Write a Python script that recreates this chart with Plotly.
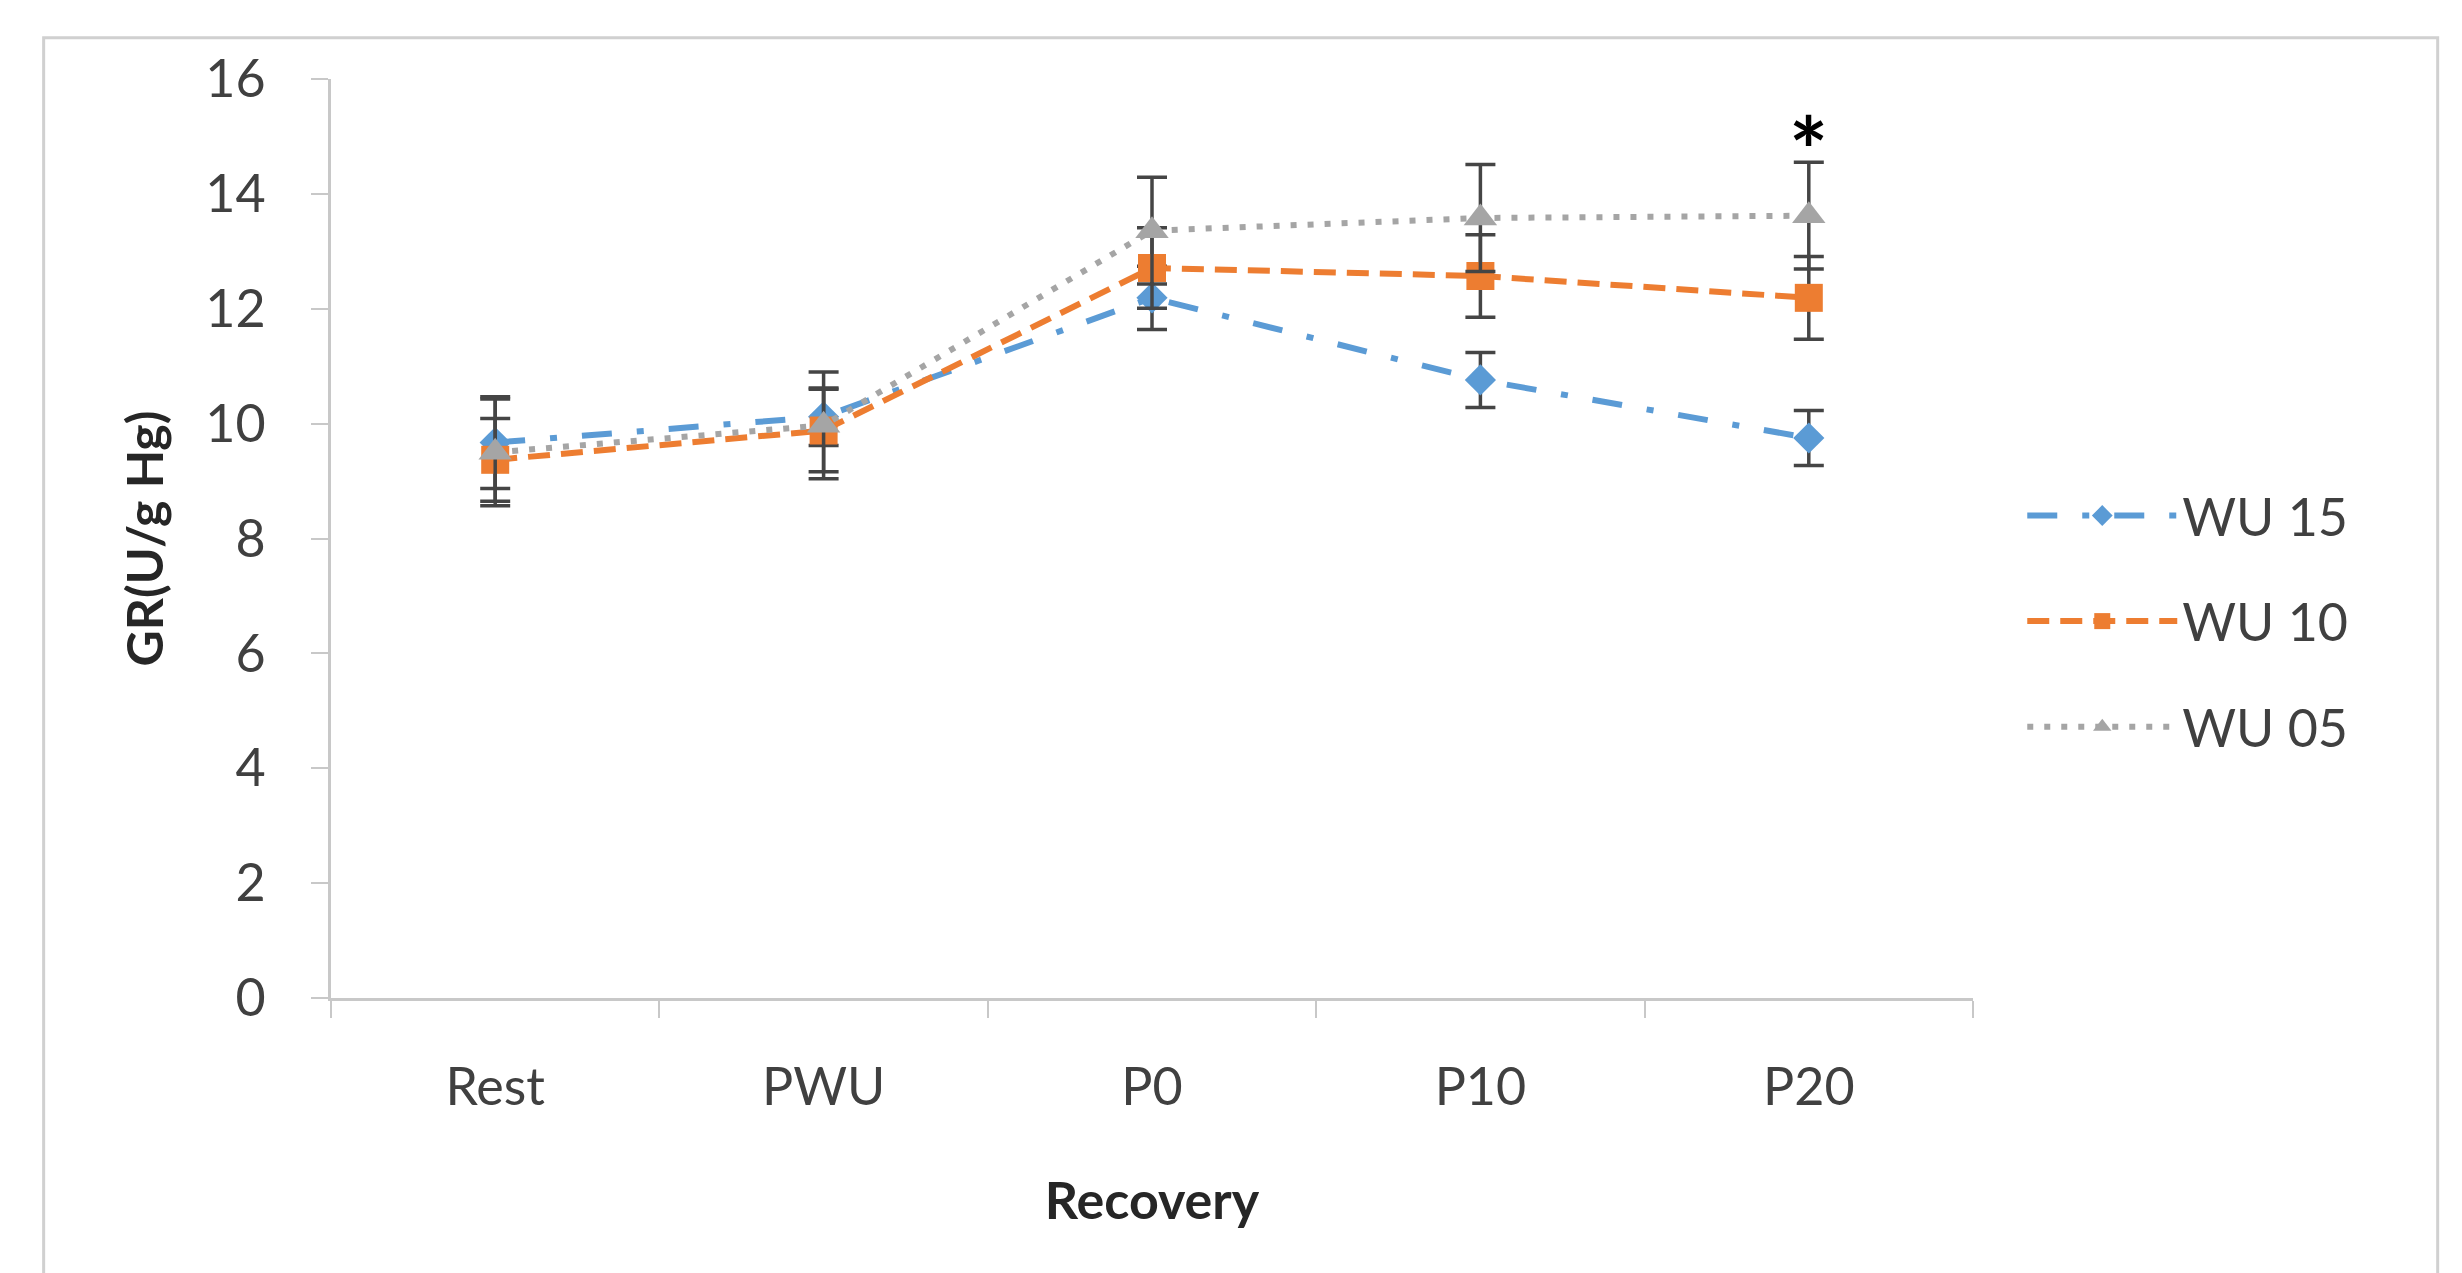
import plotly.graph_objects as go

categories = ["Rest", "PWU", "P0", "P10", "P20"]

wu15_mean = [9.67, 10.12, 12.19, 10.76, 9.75]
wu15_err = [0.80, 0.50, 0.55, 0.48, 0.48]

wu10_mean = [9.37, 9.88, 12.71, 12.57, 12.19]
wu10_err = [0.72, 0.72, 0.70, 0.72, 0.72]

wu05_mean = [9.50, 9.97, 13.36, 13.58, 13.62]
wu05_err = [0.93, 0.93, 0.93, 0.93, 0.93]

y_ticks = [0, 2, 4, 6, 8, 10, 12, 14, 16]

FONT = "Lato"
ERR_COLOR = "#454545"

fig = go.Figure()

series = [
    ("WU 15", wu15_mean, wu15_err, "#5B9BD5", "30px,25px,7px,25px", "diamond", 24),
    ("WU 10", wu10_mean, wu10_err, "#ED7D31", "22px,11px", "square", 28),
    ("WU 05", wu05_mean, wu05_err, "#A5A5A5", "6px,11px", "triangle-up", 29),
]

for i, (name, mean, err, color, dash, symbol, msize) in enumerate(series):
    fig.add_trace(go.Scatter(
        x=categories, y=mean, name=name, mode="lines+markers",
        legendgroup=f"g{i}",
        line=dict(color=color, width=6, dash=dash),
        marker=dict(color=color, symbol=symbol, size=msize, line=dict(width=0)),
        error_y=dict(type="data", array=err, visible=True, color=ERR_COLOR,
                     thickness=3.5, width=15),
    ))

fig.add_annotation(x="P20", y=14.78, text="<b>*</b>", showarrow=False,
                   font=dict(family=FONT, size=92, color="#000000"))

fig.add_shape(type="rect", xref="paper", yref="paper",
              x0=-0.175, x1=1.283, y0=-0.40, y1=1.045,
              line=dict(color="#D0D0D0", width=3), fillcolor="rgba(0,0,0,0)")

fig.update_layout(
    width=2462, height=1273,
    margin=dict(l=323, r=497, t=71, b=283),
    paper_bgcolor="white", plot_bgcolor="white",
    font=dict(family=FONT, size=52, color="#404040"),
    showlegend=True,
    legend=dict(x=1.03, y=0.41, xanchor="left", yanchor="middle",
                traceorder="grouped", tracegroupgap=35, itemwidth=150,
                font=dict(family=FONT, size=52, color="#404040"),
                bgcolor="rgba(0,0,0,0)"),
    xaxis=dict(
        type="category", categoryorder="array", categoryarray=categories,
        range=[-0.5, 4.5], showgrid=False, zeroline=False,
        showline=True, linecolor="#C8C8C8", linewidth=3,
        ticks="outside", tickson="boundaries", ticklen=17, tickwidth=2,
        tickcolor="#C8C8C8", ticklabelstandoff=42,
        title=dict(text="<b>Recovery</b>", standoff=68,
                   font=dict(family=FONT, size=52, color="#262626")),
    ),
    yaxis=dict(
        range=[0, 16], tickvals=y_ticks, showgrid=False, zeroline=False,
        showline=True, linecolor="#C8C8C8", linewidth=3,
        ticks="outside", ticklen=17, tickwidth=2, tickcolor="#C8C8C8",
        ticklabelstandoff=35,
        title=dict(text="<b>GR(U/g Hg)</b>", standoff=26,
                   font=dict(family=FONT, size=50, color="#262626")),
    ),
)

fig.write_html("out.html")
